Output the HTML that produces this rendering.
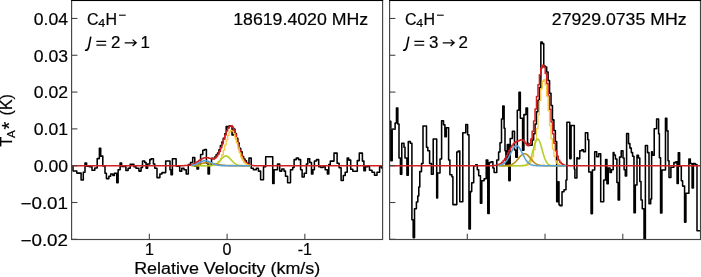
<!DOCTYPE html>
<html><head><meta charset="utf-8"><title>C4H- spectra</title>
<style>html,body{margin:0;padding:0;background:#fff;overflow:hidden}svg{display:block}text{stroke:#000;stroke-width:0.2px}</style>
</head><body>
<svg width="701" height="277" viewBox="0 0 701 277" font-family='"Liberation Sans", sans-serif'>
<rect width="100%" height="100%" fill="#fff"/>
<g style="will-change:transform">
<clipPath id="cl"><rect x="71.60" y="0.00" width="311.00" height="239.50"/></clipPath>
<g clip-path="url(#cl)">
<path d="M71.50,166.10H73.00V170.90H76.80V173.10H81.10V179.90H83.30V172.30H85.00V162.90H86.60V166.30H89.10V166.60H92.00V170.20H94.80V168.00H97.20V158.60H99.38V148.20H100.72V156.10H102.80V166.00H105.00V173.30H106.40V178.60H108.90V176.20H110.70V174.00H112.90V175.50H114.40V173.30H116.78V182.70H118.12V169.70H120.10V162.90H121.60V166.50H125.90V170.40H128.10V168.20H130.20V164.30H133.90V166.80H136.00V168.20H138.90V171.10H141.10V167.50H142.50V161.00H144.70V162.50H146.10V168.20H147.60V163.90H149.80V159.60H151.20V158.80H153.40V163.90H154.80V168.20H157.00V177.60H159.90V174.00H162.00V172.60H165.70V161.00H170.00V169.70H171.00V174.70H172.40V158.80H176.10V166.10H179.70V171.10H181.80V168.20H184.00V169.70H186.20V174.00H188.30V164.60H190.50V162.50H192.70V157.40H194.80V166.10H197.00V169.00H198.50V163.90H200.60V154.50H202.80V150.20H204.50V149.40H206.40V163.20H208.07V174.00H209.43V165.30H211.50V159.21H211.70V158.29H213.15V158.72H214.60V156.97H216.05V154.77H217.50V153.08H218.95V149.76H220.40V145.50H221.85V141.90H223.30V138.19H224.75V133.67H226.20V126.50H227.65V127.79H229.10V125.76H230.55V126.11H232.00V135.00H233.45V128.97H234.90V133.44H236.35V138.32H237.80V142.92H239.25V148.21H240.70V151.85H242.15V156.61H243.60V159.01H245.05V160.88H246.50V163.30H247.95V164.20H249.00V158.10H251.20V168.20H253.40V169.70H256.30V168.20H258.40V171.10H260.60V179.80H263.50V166.80H265.70V156.70H272.72V183.40H274.07V169.70H277.50V163.90H279.70V171.10H281.80V169.00H284.00V171.10H285.50V176.20H287.60V182.70H290.50V169.70H292.70V167.50H294.10V159.60H296.30V158.10H298.50V159.60H300.60V169.70H302.10V176.90H304.20V173.30H306.40V163.90H307.80V158.80H309.70V162.50H311.50V174.00H312.90V169.70H314.40V161.00H316.50V159.60H318.70V166.80H320.90V167.50H323.00V166.80H325.20V169.70H327.40V174.00H328.80V164.60H330.30V161.10H334.00V153.10H337.10V163.20H339.10V167.70H341.10V180.50H343.30V175.50H345.20V172.30H347.20V158.10H348.70V160.10H350.70V169.20H352.80V171.30H357.30V160.60H359.30V153.10H362.40V161.10H363.90V170.80H365.40V166.70H367.90V166.20H369.50V170.30H372.00V172.30H374.50V175.30H377.00V172.30H379.60V166.70H381.60V168.00H383.00" fill="none" stroke="#000" stroke-width="1.55" stroke-linejoin="round"/>
<path d="M71.60,165.70H72.50V165.70H73.95V165.70H75.40V165.70H76.85V165.70H78.30V165.70H79.75V165.70H81.20V165.70H82.65V165.70H84.10V165.70H85.55V165.70H87.00V165.70H88.45V165.70H89.90V165.70H91.35V165.70H92.80V165.70H94.25V165.70H95.70V165.70H97.15V165.70H98.60V165.70H100.05V165.70H101.50V165.70H102.95V165.70H104.40V165.70H105.85V165.70H107.30V165.70H108.75V165.70H110.20V165.70H111.65V165.70H113.10V165.70H114.55V165.70H116.00V165.70H117.45V165.70H118.90V165.70H120.35V165.70H121.80V165.70H123.25V165.70H124.70V165.70H126.15V165.70H127.60V165.70H129.05V165.70H130.50V165.70H131.95V165.70H133.40V165.70H134.85V165.70H136.30V165.70H137.75V165.70H139.20V165.70H140.65V165.70H142.10V165.70H143.55V165.70H145.00V165.70H146.45V165.70H147.90V165.70H149.35V165.70H150.80V165.70H152.25V165.70H153.70V165.70H155.15V165.70H156.60V165.70H158.05V165.70H159.50V165.70H160.95V165.70H162.40V165.70H163.85V165.70H165.30V165.70H166.75V165.70H168.20V165.70H169.65V165.70H171.10V165.70H172.55V165.70H174.00V165.70H175.45V165.70H176.90V165.70H178.35V165.70H179.80V165.69H181.25V165.68H182.70V165.66H184.15V165.62H185.60V165.56H187.05V165.45H188.50V165.27H189.95V164.99H191.40V164.59H192.85V164.05H194.30V163.34H195.75V162.49H197.20V161.52H198.65V160.50H200.10V159.51H201.55V158.65H203.00V158.02H204.45V157.68H205.90V157.63H207.35V157.85H208.80V158.22H210.25V158.61H211.70V158.81H213.15V158.66H214.60V157.95H216.05V156.57H217.50V154.41H218.95V151.47H220.40V147.83H221.85V143.68H223.30V139.27H224.75V134.96H226.20V131.11H227.65V128.10H229.10V126.23H230.55V125.71H232.00V126.93H233.45V129.93H234.90V134.31H236.35V139.48H237.80V144.87H239.25V149.95H240.70V154.37H242.15V157.95H243.60V160.65H245.05V162.57H246.50V163.86H247.95V164.67H249.40V165.15H250.85V165.42H252.30V165.56H253.75V165.64H255.20V165.67H256.65V165.69H258.10V165.70H259.55V165.70H261.00V165.70H262.45V165.70H263.90V165.70H265.35V165.70H266.80V165.70H268.25V165.70H269.70V165.70H271.15V165.70H272.60V165.70H274.05V165.70H275.50V165.70H276.95V165.70H278.40V165.70H279.85V165.70H281.30V165.70H282.75V165.70H284.20V165.70H285.65V165.70H287.10V165.70H288.55V165.70H290.00V165.70H291.45V165.70H292.90V165.70H294.35V165.70H295.80V165.70H297.25V165.70H298.70V165.70H300.15V165.70H301.60V165.70H303.05V165.70H304.50V165.70H305.95V165.70H307.40V165.70H308.85V165.70H310.30V165.70H311.75V165.70H313.20V165.70H314.65V165.70H316.10V165.70H317.55V165.70H319.00V165.70H320.45V165.70H321.90V165.70H323.35V165.70H324.80V165.70H326.25V165.70H327.70V165.70H329.15V165.70H330.60V165.70H332.05V165.70H333.50V165.70H334.95V165.70H336.40V165.70H337.85V165.70H339.30V165.70H340.75V165.70H342.20V165.70H343.65V165.70H345.10V165.70H346.55V165.70H348.00V165.70H349.45V165.70H350.90V165.70H352.35V165.70H353.80V165.70H355.25V165.70H356.70V165.70H358.15V165.70H359.60V165.70H361.05V165.70H362.50V165.70H363.95V165.70H365.40V165.70H366.85V165.70H368.30V165.70H369.75V165.70H371.20V165.70H372.65V165.70H374.10V165.70H375.55V165.70H377.00V165.70H378.45V165.70H379.90V165.70H381.35V165.70H382.60" fill="none" stroke="#d21f1f" stroke-width="1.5" stroke-linejoin="round"/>
<path d="M191.60,165.70H192.85V165.70H194.30V165.70H195.75V165.70H197.20V165.70H198.65V165.70H200.10V165.70H201.55V165.70H203.00V165.70H204.45V165.70H205.90V165.70H207.35V165.69H208.80V165.67H210.25V165.62H211.70V165.52H213.15V165.31H214.60V164.91H216.05V164.20H217.50V163.00H218.95V161.12H220.40V158.40H221.85V154.74H223.30V150.22H224.75V145.11H226.20V139.91H227.65V135.30H229.10V131.96H230.55V130.45H232.00V131.04H233.45V133.61H234.90V137.73H236.35V142.75H237.80V147.97H239.25V152.81H240.70V156.88H242.15V160.01H243.60V162.25H245.05V163.73H246.50V164.64H247.95V165.16H249.40V165.44H250.60" fill="none" stroke="#f5c93f" stroke-width="1.3" stroke-linejoin="round"/>
<path d="M191.60,165.70 L192.10,165.70 L192.60,165.70 L193.10,165.70 L193.60,165.70 L194.10,165.70 L194.60,165.70 L195.10,165.70 L195.60,165.70 L196.10,165.70 L196.60,165.70 L197.10,165.70 L197.60,165.70 L198.10,165.70 L198.60,165.70 L199.10,165.70 L199.60,165.70 L200.10,165.70 L200.60,165.70 L201.10,165.70 L201.60,165.70 L202.10,165.70 L202.60,165.70 L203.10,165.70 L203.60,165.70 L204.10,165.70 L204.60,165.70 L205.10,165.70 L205.60,165.70 L206.10,165.69 L206.60,165.69 L207.10,165.69 L207.60,165.68 L208.10,165.67 L208.60,165.66 L209.10,165.65 L209.60,165.63 L210.10,165.60 L210.60,165.57 L211.10,165.53 L211.60,165.48 L212.10,165.41 L212.60,165.33 L213.10,165.23 L213.60,165.11 L214.10,164.96 L214.60,164.79 L215.10,164.58 L215.60,164.34 L216.10,164.06 L216.60,163.74 L217.10,163.38 L217.60,162.99 L218.10,162.55 L218.60,162.08 L219.10,161.57 L219.60,161.04 L220.10,160.49 L220.60,159.93 L221.10,159.36 L221.60,158.81 L222.10,158.27 L222.60,157.77 L223.10,157.31 L223.60,156.90 L224.10,156.56 L224.60,156.30 L225.10,156.11 L225.60,156.02 L226.10,156.01 L226.60,156.09 L227.10,156.25 L227.60,156.50 L228.10,156.83 L228.60,157.22 L229.10,157.67 L229.60,158.17 L230.10,158.70 L230.60,159.25 L231.10,159.82 L231.60,160.38 L232.10,160.93 L232.60,161.47 L233.10,161.98 L233.60,162.46 L234.10,162.90 L234.60,163.31 L235.10,163.67 L235.60,164.00 L236.10,164.28 L236.60,164.53 L237.10,164.75 L237.60,164.93 L238.10,165.08 L238.60,165.21 L239.10,165.31 L239.60,165.40 L240.10,165.47 L240.60,165.52 L241.10,165.56 L241.60,165.60 L242.10,165.62 L242.60,165.64 L243.10,165.66 L243.60,165.67 L244.10,165.68 L244.60,165.68 L245.10,165.69 L245.60,165.69 L246.10,165.69 L246.60,165.70 L247.10,165.70 L247.60,165.70 L248.10,165.70 L248.60,165.70 L249.10,165.70 L249.60,165.70 L250.10,165.70 L250.60,165.70" fill="none" stroke="#b2cf25" stroke-width="1.6"/>
<path d="M191.60,165.61 L192.10,165.58 L192.60,165.55 L193.10,165.51 L193.60,165.47 L194.10,165.42 L194.60,165.36 L195.10,165.29 L195.60,165.21 L196.10,165.13 L196.60,165.03 L197.10,164.92 L197.60,164.80 L198.10,164.67 L198.60,164.53 L199.10,164.38 L199.60,164.23 L200.10,164.07 L200.60,163.91 L201.10,163.75 L201.60,163.59 L202.10,163.44 L202.60,163.30 L203.10,163.18 L203.60,163.06 L204.10,162.97 L204.60,162.89 L205.10,162.84 L205.60,162.81 L206.10,162.80 L206.60,162.81 L207.10,162.82 L207.60,162.85 L208.10,162.88 L208.60,162.92 L209.10,162.97 L209.60,163.02 L210.10,163.09 L210.60,163.16 L211.10,163.23 L211.60,163.31 L212.10,163.40 L212.60,163.48 L213.10,163.58 L213.60,163.67 L214.10,163.77 L214.60,163.86 L215.10,163.96 L215.60,164.06 L216.10,164.16 L216.60,164.25 L217.10,164.34 L217.60,164.44 L218.10,164.53 L218.60,164.61 L219.10,164.69 L219.60,164.77 L220.10,164.85 L220.60,164.92 L221.10,164.99 L221.60,165.05 L222.10,165.11 L222.60,165.17 L223.10,165.22 L223.60,165.27 L224.10,165.32 L224.60,165.36 L225.10,165.39 L225.60,165.43 L226.10,165.46 L226.60,165.49 L227.10,165.51 L227.60,165.54 L228.10,165.56 L228.60,165.58 L229.10,165.59 L229.60,165.61 L230.10,165.62 L230.60,165.63 L231.10,165.64 L231.60,165.65 L232.10,165.66 L232.60,165.66 L233.10,165.67 L233.60,165.67 L234.10,165.68 L234.60,165.68 L235.10,165.68 L235.60,165.69 L236.10,165.69 L236.60,165.69 L237.10,165.69 L237.60,165.69 L238.10,165.69 L238.60,165.70 L239.10,165.70 L239.60,165.70 L240.10,165.70 L240.60,165.70 L241.10,165.70 L241.60,165.70 L242.10,165.70 L242.60,165.70 L243.10,165.70 L243.60,165.70 L244.10,165.70 L244.60,165.70 L245.10,165.70 L245.60,165.70 L246.10,165.70 L246.60,165.70 L247.10,165.70 L247.60,165.70 L248.10,165.70 L248.60,165.70 L249.10,165.70 L249.60,165.70 L250.10,165.70 L250.60,165.70" fill="none" stroke="#b98c14" stroke-width="1.6"/>
<path d="M191.60,165.32 L192.10,165.24 L192.60,165.15 L193.10,165.05 L193.60,164.93 L194.10,164.80 L194.60,164.65 L195.10,164.49 L195.60,164.31 L196.10,164.12 L196.60,163.91 L197.10,163.69 L197.60,163.46 L198.10,163.22 L198.60,162.97 L199.10,162.72 L199.60,162.47 L200.10,162.22 L200.60,161.97 L201.10,161.74 L201.60,161.52 L202.10,161.32 L202.60,161.15 L203.10,161.00 L203.60,160.87 L204.10,160.78 L204.60,160.72 L205.10,160.70 L205.60,160.71 L206.10,160.76 L206.60,160.83 L207.10,160.94 L207.60,161.08 L208.10,161.25 L208.60,161.44 L209.10,161.65 L209.60,161.88 L210.10,162.12 L210.60,162.37 L211.10,162.62 L211.60,162.87 L212.10,163.12 L212.60,163.36 L213.10,163.60 L213.60,163.82 L214.10,164.04 L214.60,164.23 L215.10,164.42 L215.60,164.59 L216.10,164.74 L216.60,164.88 L217.10,165.00 L217.60,165.11 L218.10,165.20 L218.60,165.29 L219.10,165.36 L219.60,165.42 L220.10,165.47 L220.60,165.51 L221.10,165.55 L221.60,165.58 L222.10,165.61 L222.60,165.63 L223.10,165.64 L223.60,165.65 L224.10,165.66 L224.60,165.67 L225.10,165.68 L225.60,165.68 L226.10,165.69 L226.60,165.69 L227.10,165.69 L227.60,165.70 L228.10,165.70 L228.60,165.70 L229.10,165.70 L229.60,165.70 L230.10,165.70 L230.60,165.70 L231.10,165.70 L231.60,165.70 L232.10,165.70 L232.60,165.70 L233.10,165.70 L233.60,165.70 L234.10,165.70 L234.60,165.70 L235.10,165.70 L235.60,165.70 L236.10,165.70 L236.60,165.70 L237.10,165.70 L237.60,165.70 L238.10,165.70 L238.60,165.70 L239.10,165.70 L239.60,165.70 L240.10,165.70 L240.60,165.70 L241.10,165.70 L241.60,165.70 L242.10,165.70 L242.60,165.70 L243.10,165.70 L243.60,165.70 L244.10,165.70 L244.60,165.70 L245.10,165.70 L245.60,165.70 L246.10,165.70 L246.60,165.70 L247.10,165.70 L247.60,165.70 L248.10,165.70 L248.60,165.70 L249.10,165.70 L249.60,165.70 L250.10,165.70 L250.60,165.70" fill="none" stroke="#5b9fd9" stroke-width="1.6"/>
</g>
<rect x="71.60" y="0.50" width="311.00" height="239.00" fill="none" stroke="#444" stroke-width="1.15"/>
<line x1="71.10" y1="0.5" x2="383.10" y2="0.5" stroke="#000" stroke-width="1"/>
<line x1="71.60" y1="18.46" x2="77.40" y2="18.46" stroke="#444" stroke-width="1.1"/>
<line x1="71.60" y1="55.27" x2="77.40" y2="55.27" stroke="#444" stroke-width="1.1"/>
<line x1="71.60" y1="92.08" x2="77.40" y2="92.08" stroke="#444" stroke-width="1.1"/>
<line x1="71.60" y1="128.89" x2="77.40" y2="128.89" stroke="#444" stroke-width="1.1"/>
<line x1="71.60" y1="165.70" x2="77.40" y2="165.70" stroke="#444" stroke-width="1.1"/>
<line x1="71.60" y1="202.51" x2="77.40" y2="202.51" stroke="#444" stroke-width="1.1"/>
<line x1="71.60" y1="239.32" x2="77.40" y2="239.32" stroke="#444" stroke-width="1.1"/>
<line x1="149.35" y1="239.50" x2="149.35" y2="233.70" stroke="#444" stroke-width="1.1"/>
<line x1="227.10" y1="239.50" x2="227.10" y2="233.70" stroke="#444" stroke-width="1.1"/>
<line x1="304.85" y1="239.50" x2="304.85" y2="233.70" stroke="#444" stroke-width="1.1"/>
<clipPath id="cr"><rect x="389.60" y="0.00" width="310.90" height="239.50"/></clipPath>
<g clip-path="url(#cr)">
<path d="M389.50,121.20H390.82V160.80H392.18V129.30H395.10V123.00H396.47V108.00H397.82V124.00H399.00V158.00H400.43V174.30H401.78V143.30H404.00V147.20H405.00V158.00H406.93V175.20H408.28V141.50H410.30V143.30H411.90V219.70H413.18V237.60H414.53V208.80H416.40V201.90H417.80V195.90H418.80V187.00H419.80V171.60H421.50V163.50H423.00V126.00H426.50V147.20H427.80V150.80H429.60V163.50H431.40V174.30H433.20V139.00H436.70V197.90H437.60V173.00H440.00V158.90H441.60V120.80H443.50V124.80H444.90V136.70H446.30V127.80H448.60V159.90H449.90V174.80H451.90V176.70H452.90V204.60H456.80V151.90H458.20V150.90H459.80V201.70H462.80V132.70H465.80V124.40H467.60V134.70H468.97V229.00H470.32V191.60H471.70V182.70H473.70V165.80H475.70V164.80H477.30V169.80H478.70V175.70H480.43V203.30H481.78V180.70H484.10V178.70H486.22V159.90H487.81V213.40H489.16V162.60H491.00V161.70H492.90V168.00H494.10V172.50H496.80V159.90H498.60V152.00H500.00V142.80H501.50V119.00H502.77V106.00H504.12V128.30H505.00V150.80H505.90V165.30H507.30V144.50H508.82V180.60H510.18V138.40H512.40V131.20H514.50V150.00H515.80V157.20H517.30V110.30H518.98V92.20H520.33V118.20H522.58V150.30H523.92V114.60H526.00V108.10H527.50V142.80H528.00V145.33H529.25V145.31H530.70V145.33H532.15V139.99H533.60V133.82H535.05V124.01H536.50V111.68H537.95V100.17H539.40V87.40H540.85V42.00H542.30V43.60H543.75V66.00H545.20V67.08H546.65V71.99H548.10V80.42H549.55V93.35H551.00V105.56H552.45V119.88H553.90V130.53H555.35V141.54H556.70V201.70H558.00V181.80H559.00V204.70H560.00V205.70H562.00V191.80H564.00V189.80H566.00V179.90H566.90V122.30H569.73V158.60H571.07V125.50H574.30V168.90H574.90V177.90H576.90V157.70H577.80V158.60H579.80V150.70H581.80V149.70H583.40V151.70H585.40V132.80H587.80V139.80H588.80V171.90H591.08V213.60H592.42V170.00H594.70V151.70H596.70V156.70H598.70V153.70H600.70V201.70H603.70V179.90H605.60V159.60H606.93V183.80H608.27V168.00H610.00V172.50H611.40V169.80H613.20V152.60H614.00V155.00H615.40V159.00H616.90V182.40H618.17V199.90H619.52V157.10H621.20V150.80H623.00V158.00H624.10V169.80H625.30V176.00H626.60V133.50H628.50V143.60H629.90V148.10H631.30V152.60H632.60V156.20H633.98V212.80H635.32V185.00H637.00V155.30H638.50V158.00H639.80V181.50H641.00V200.00H642.30V208.80H644.03V238.60H645.38V145.40H647.50V152.60H649.00V203.80H650.70V198.90H651.60V151.70H652.40V155.30H654.20V128.80H656.60V118.90H658.60V133.80H659.40V157.70H660.58V213.00H661.92V170.00H665.48V118.30H666.82V130.80H668.00V160.80H669.00V177.50H670.90V167.20H673.90V162.60H675.90V161.70H677.10V183.40H678.28V152.70H679.62V166.20H681.30V180.70H682.60V186.10H684.58V222.10H685.92V193.30H688.90V159.00H690.30V163.50H692.10V187.90H693.40V163.50H695.20V164.40H697.00V230.80H701.50" fill="none" stroke="#000" stroke-width="1.55" stroke-linejoin="round"/>
<path d="M389.60,165.70H390.05V165.70H391.50V165.70H392.95V165.70H394.40V165.70H395.85V165.70H397.30V165.70H398.75V165.70H400.20V165.70H401.65V165.70H403.10V165.70H404.55V165.70H406.00V165.70H407.45V165.70H408.90V165.70H410.35V165.70H411.80V165.70H413.25V165.70H414.70V165.70H416.15V165.70H417.60V165.70H419.05V165.70H420.50V165.70H421.95V165.70H423.40V165.70H424.85V165.70H426.30V165.70H427.75V165.70H429.20V165.70H430.65V165.70H432.10V165.70H433.55V165.70H435.00V165.70H436.45V165.70H437.90V165.70H439.35V165.70H440.80V165.70H442.25V165.70H443.70V165.70H445.15V165.70H446.60V165.70H448.05V165.70H449.50V165.70H450.95V165.70H452.40V165.70H453.85V165.70H455.30V165.70H456.75V165.70H458.20V165.70H459.65V165.70H461.10V165.70H462.55V165.70H464.00V165.70H465.45V165.70H466.90V165.70H468.35V165.70H469.80V165.70H471.25V165.70H472.70V165.70H474.15V165.70H475.60V165.70H477.05V165.70H478.50V165.70H479.95V165.70H481.40V165.70H482.85V165.70H484.30V165.70H485.75V165.70H487.20V165.69H488.65V165.69H490.10V165.67H491.55V165.64H493.00V165.58H494.45V165.46H495.90V165.25H497.35V164.89H498.80V164.32H500.25V163.45H501.70V162.21H503.15V160.54H504.60V158.40H506.05V155.86H507.50V153.04H508.95V150.15H510.40V147.44H511.85V145.16H513.30V143.46H514.75V142.32H516.20V141.54H517.65V140.89H519.10V140.25H520.55V139.84H522.00V140.09H523.45V141.30H524.90V143.25H526.35V145.11H527.80V145.66H529.25V143.83H530.70V139.05H532.15V131.30H533.60V121.04H535.05V109.10H536.50V96.55H537.95V84.67H539.40V74.77H540.85V68.04H542.30V65.33H543.75V67.15H545.20V73.50H546.65V83.51H548.10V95.88H549.55V109.18H551.00V122.10H552.45V133.66H553.90V143.26H555.35V150.72H556.80V156.18H558.25V159.93H559.70V162.37H561.15V163.87H562.60V164.74H564.05V165.22H565.50V165.47H566.95V165.60H568.40V165.66H569.85V165.68H571.30V165.69H572.75V165.70H574.20V165.70H575.65V165.70H577.10V165.70H578.55V165.70H580.00V165.70H581.45V165.70H582.90V165.70H584.35V165.70H585.80V165.70H587.25V165.70H588.70V165.70H590.15V165.70H591.60V165.70H593.05V165.70H594.50V165.70H595.95V165.70H597.40V165.70H598.85V165.70H600.30V165.70H601.75V165.70H603.20V165.70H604.65V165.70H606.10V165.70H607.55V165.70H609.00V165.70H610.45V165.70H611.90V165.70H613.35V165.70H614.80V165.70H616.25V165.70H617.70V165.70H619.15V165.70H620.60V165.70H622.05V165.70H623.50V165.70H624.95V165.70H626.40V165.70H627.85V165.70H629.30V165.70H630.75V165.70H632.20V165.70H633.65V165.70H635.10V165.70H636.55V165.70H638.00V165.70H639.45V165.70H640.90V165.70H642.35V165.70H643.80V165.70H645.25V165.70H646.70V165.70H648.15V165.70H649.60V165.70H651.05V165.70H652.50V165.70H653.95V165.70H655.40V165.70H656.85V165.70H658.30V165.70H659.75V165.70H661.20V165.70H662.65V165.70H664.10V165.70H665.55V165.70H667.00V165.70H668.45V165.70H669.90V165.70H671.35V165.70H672.80V165.70H674.25V165.70H675.70V165.70H677.15V165.70H678.60V165.70H680.05V165.70H681.50V165.70H682.95V165.70H684.40V165.70H685.85V165.70H687.30V165.70H688.75V165.70H690.20V165.70H691.65V165.70H693.10V165.70H694.55V165.70H696.00V165.70H697.45V165.70H698.90V165.70H700.35V165.70H700.50" fill="none" stroke="#d21f1f" stroke-width="1.5" stroke-linejoin="round"/>
<path d="M498.60,165.70H498.80V165.70H500.25V165.70H501.70V165.70H503.15V165.70H504.60V165.70H506.05V165.70H507.50V165.70H508.95V165.70H510.40V165.70H511.85V165.70H513.30V165.70H514.75V165.70H516.20V165.70H517.65V165.70H519.10V165.70H520.55V165.69H522.00V165.67H523.45V165.63H524.90V165.50H526.35V165.20H527.80V164.55H529.25V163.23H530.70V160.76H532.15V156.55H533.60V149.97H535.05V140.60H536.50V128.54H537.95V114.65H539.40V100.63H540.85V88.75H542.30V81.26H543.75V79.74H545.20V85.05H546.65V96.14H548.10V110.54H549.55V125.49H551.00V138.75H552.45V149.10H553.90V156.30H555.35V160.80H556.80V163.36H558.25V164.67H559.70V165.28H561.15V165.54H562.60V165.65H564.05V165.68H565.50V165.70H565.60" fill="none" stroke="#f5c93f" stroke-width="1.3" stroke-linejoin="round"/>
<path d="M498.60,165.70 L499.10,165.70 L499.60,165.70 L500.10,165.70 L500.60,165.70 L501.10,165.70 L501.60,165.70 L502.10,165.70 L502.60,165.70 L503.10,165.70 L503.60,165.70 L504.10,165.70 L504.60,165.70 L505.10,165.70 L505.60,165.70 L506.10,165.70 L506.60,165.70 L507.10,165.70 L507.60,165.70 L508.10,165.70 L508.60,165.70 L509.10,165.70 L509.60,165.70 L510.10,165.70 L510.60,165.70 L511.10,165.70 L511.60,165.70 L512.10,165.70 L512.60,165.70 L513.10,165.70 L513.60,165.70 L514.10,165.70 L514.60,165.70 L515.10,165.70 L515.60,165.70 L516.10,165.70 L516.60,165.70 L517.10,165.70 L517.60,165.70 L518.10,165.70 L518.60,165.70 L519.10,165.70 L519.60,165.69 L520.10,165.69 L520.60,165.69 L521.10,165.68 L521.60,165.67 L522.10,165.65 L522.60,165.63 L523.10,165.59 L523.60,165.54 L524.10,165.48 L524.60,165.38 L525.10,165.26 L525.60,165.09 L526.10,164.88 L526.60,164.60 L527.10,164.24 L527.60,163.79 L528.10,163.24 L528.60,162.57 L529.10,161.76 L529.60,160.81 L530.10,159.72 L530.60,158.46 L531.10,157.06 L531.60,155.53 L532.10,153.87 L532.60,152.11 L533.10,150.30 L533.60,148.47 L534.10,146.67 L534.60,144.95 L535.10,143.36 L535.60,141.96 L536.10,140.80 L536.60,139.92 L537.10,139.35 L537.60,139.11 L538.10,139.21 L538.60,139.65 L539.10,140.41 L539.60,141.47 L540.10,142.78 L540.60,144.29 L541.10,145.97 L541.60,147.74 L542.10,149.57 L542.60,151.39 L543.10,153.17 L543.60,154.87 L544.10,156.46 L544.60,157.92 L545.10,159.23 L545.60,160.39 L546.10,161.40 L546.60,162.26 L547.10,162.98 L547.60,163.58 L548.10,164.07 L548.60,164.46 L549.10,164.77 L549.60,165.01 L550.10,165.20 L550.60,165.34 L551.10,165.44 L551.60,165.52 L552.10,165.57 L552.60,165.61 L553.10,165.64 L553.60,165.66 L554.10,165.67 L554.60,165.68 L555.10,165.69 L555.60,165.69 L556.10,165.70 L556.60,165.70 L557.10,165.70 L557.60,165.70 L558.10,165.70 L558.60,165.70 L559.10,165.70 L559.60,165.70 L560.10,165.70 L560.60,165.70 L561.10,165.70 L561.60,165.70 L562.10,165.70 L562.60,165.70 L563.10,165.70 L563.60,165.70 L564.10,165.70 L564.60,165.70 L565.10,165.70 L565.60,165.70" fill="none" stroke="#b2cf25" stroke-width="1.6"/>
<path d="M498.60,165.70 L499.10,165.70 L499.60,165.70 L500.10,165.70 L500.60,165.70 L501.10,165.69 L501.60,165.69 L502.10,165.69 L502.60,165.68 L503.10,165.68 L503.60,165.67 L504.10,165.66 L504.60,165.65 L505.10,165.64 L505.60,165.62 L506.10,165.59 L506.60,165.56 L507.10,165.52 L507.60,165.47 L508.10,165.41 L508.60,165.34 L509.10,165.25 L509.60,165.15 L510.10,165.03 L510.60,164.88 L511.10,164.71 L511.60,164.51 L512.10,164.28 L512.60,164.02 L513.10,163.73 L513.60,163.40 L514.10,163.03 L514.60,162.62 L515.10,162.18 L515.60,161.71 L516.10,161.20 L516.60,160.66 L517.10,160.09 L517.60,159.51 L518.10,158.91 L518.60,158.30 L519.10,157.70 L519.60,157.10 L520.10,156.53 L520.60,155.99 L521.10,155.48 L521.60,155.02 L522.10,154.62 L522.60,154.29 L523.10,154.02 L523.60,153.83 L524.10,153.73 L524.60,153.70 L525.10,153.76 L525.60,153.90 L526.10,154.12 L526.60,154.41 L527.10,154.78 L527.60,155.20 L528.10,155.68 L528.60,156.20 L529.10,156.76 L529.60,157.34 L530.10,157.94 L530.60,158.54 L531.10,159.15 L531.60,159.74 L532.10,160.32 L532.60,160.88 L533.10,161.40 L533.60,161.90 L534.10,162.36 L534.60,162.79 L535.10,163.18 L535.60,163.53 L536.10,163.85 L536.60,164.13 L537.10,164.38 L537.60,164.59 L538.10,164.78 L538.60,164.94 L539.10,165.08 L539.60,165.19 L540.10,165.29 L540.60,165.37 L541.10,165.44 L541.60,165.49 L542.10,165.54 L542.60,165.57 L543.10,165.60 L543.60,165.62 L544.10,165.64 L544.60,165.66 L545.10,165.67 L545.60,165.68 L546.10,165.68 L546.60,165.69 L547.10,165.69 L547.60,165.69 L548.10,165.69 L548.60,165.70 L549.10,165.70 L549.60,165.70 L550.10,165.70 L550.60,165.70 L551.10,165.70 L551.60,165.70 L552.10,165.70 L552.60,165.70 L553.10,165.70 L553.60,165.70 L554.10,165.70 L554.60,165.70 L555.10,165.70 L555.60,165.70 L556.10,165.70 L556.60,165.70 L557.10,165.70 L557.60,165.70 L558.10,165.70 L558.60,165.70 L559.10,165.70 L559.60,165.70 L560.10,165.70 L560.60,165.70 L561.10,165.70 L561.60,165.70 L562.10,165.70 L562.60,165.70 L563.10,165.70 L563.60,165.70 L564.10,165.70 L564.60,165.70 L565.10,165.70 L565.60,165.70" fill="none" stroke="#b98c14" stroke-width="1.6"/>
<path d="M498.60,165.47 L499.10,165.40 L499.60,165.32 L500.10,165.22 L500.60,165.10 L501.10,164.96 L501.60,164.78 L502.10,164.58 L502.60,164.33 L503.10,164.05 L503.60,163.72 L504.10,163.34 L504.60,162.90 L505.10,162.41 L505.60,161.86 L506.10,161.25 L506.60,160.57 L507.10,159.84 L507.60,159.04 L508.10,158.19 L508.60,157.29 L509.10,156.35 L509.60,155.38 L510.10,154.38 L510.60,153.37 L511.10,152.36 L511.60,151.37 L512.10,150.42 L512.60,149.51 L513.10,148.67 L513.60,147.90 L514.10,147.24 L514.60,146.68 L515.10,146.24 L515.60,145.92 L516.10,145.74 L516.60,145.70 L517.10,145.80 L517.60,146.03 L518.10,146.40 L518.60,146.89 L519.10,147.49 L519.60,148.20 L520.10,148.99 L520.60,149.86 L521.10,150.79 L521.60,151.76 L522.10,152.76 L522.60,153.77 L523.10,154.78 L523.60,155.77 L524.10,156.73 L524.60,157.66 L525.10,158.54 L525.60,159.37 L526.10,160.14 L526.60,160.85 L527.10,161.50 L527.60,162.09 L528.10,162.61 L528.60,163.08 L529.10,163.49 L529.60,163.86 L530.10,164.17 L530.60,164.44 L531.10,164.66 L531.60,164.86 L532.10,165.02 L532.60,165.15 L533.10,165.26 L533.60,165.36 L534.10,165.43 L534.60,165.49 L535.10,165.54 L535.60,165.57 L536.10,165.60 L536.60,165.63 L537.10,165.64 L537.60,165.66 L538.10,165.67 L538.60,165.68 L539.10,165.68 L539.60,165.69 L540.10,165.69 L540.60,165.69 L541.10,165.70 L541.60,165.70 L542.10,165.70 L542.60,165.70 L543.10,165.70 L543.60,165.70 L544.10,165.70 L544.60,165.70 L545.10,165.70 L545.60,165.70 L546.10,165.70 L546.60,165.70 L547.10,165.70 L547.60,165.70 L548.10,165.70 L548.60,165.70 L549.10,165.70 L549.60,165.70 L550.10,165.70 L550.60,165.70 L551.10,165.70 L551.60,165.70 L552.10,165.70 L552.60,165.70 L553.10,165.70 L553.60,165.70 L554.10,165.70 L554.60,165.70 L555.10,165.70 L555.60,165.70 L556.10,165.70 L556.60,165.70 L557.10,165.70 L557.60,165.70 L558.10,165.70 L558.60,165.70 L559.10,165.70 L559.60,165.70 L560.10,165.70 L560.60,165.70 L561.10,165.70 L561.60,165.70 L562.10,165.70 L562.60,165.70 L563.10,165.70 L563.60,165.70 L564.10,165.70 L564.60,165.70 L565.10,165.70 L565.60,165.70" fill="none" stroke="#5b9fd9" stroke-width="1.6"/>
</g>
<rect x="389.60" y="0.50" width="310.90" height="239.00" fill="none" stroke="#444" stroke-width="1.15"/>
<line x1="389.10" y1="0.5" x2="701.00" y2="0.5" stroke="#000" stroke-width="1"/>
<line x1="389.60" y1="18.46" x2="395.40" y2="18.46" stroke="#444" stroke-width="1.1"/>
<line x1="389.60" y1="55.27" x2="395.40" y2="55.27" stroke="#444" stroke-width="1.1"/>
<line x1="389.60" y1="92.08" x2="395.40" y2="92.08" stroke="#444" stroke-width="1.1"/>
<line x1="389.60" y1="128.89" x2="395.40" y2="128.89" stroke="#444" stroke-width="1.1"/>
<line x1="389.60" y1="165.70" x2="395.40" y2="165.70" stroke="#444" stroke-width="1.1"/>
<line x1="389.60" y1="202.51" x2="395.40" y2="202.51" stroke="#444" stroke-width="1.1"/>
<line x1="389.60" y1="239.32" x2="395.40" y2="239.32" stroke="#444" stroke-width="1.1"/>
<line x1="467.30" y1="239.50" x2="467.30" y2="233.70" stroke="#444" stroke-width="1.1"/>
<line x1="545.05" y1="239.50" x2="545.05" y2="233.70" stroke="#444" stroke-width="1.1"/>
<line x1="622.80" y1="239.50" x2="622.80" y2="233.70" stroke="#444" stroke-width="1.1"/>
<text x="68.00" y="24.86" font-size="16" text-anchor="end" textLength="34.2" lengthAdjust="spacingAndGlyphs">0.04</text>
<text x="68.00" y="61.67" font-size="16" text-anchor="end" textLength="34.2" lengthAdjust="spacingAndGlyphs">0.03</text>
<text x="68.00" y="98.48" font-size="16" text-anchor="end" textLength="34.2" lengthAdjust="spacingAndGlyphs">0.02</text>
<text x="68.00" y="135.29" font-size="16" text-anchor="end" textLength="34.2" lengthAdjust="spacingAndGlyphs">0.01</text>
<text x="68.00" y="172.10" font-size="16" text-anchor="end" textLength="34.2" lengthAdjust="spacingAndGlyphs">0.00</text>
<text x="68.00" y="208.91" font-size="16" text-anchor="end" textLength="47.5" lengthAdjust="spacingAndGlyphs">−0.01</text>
<text x="68.00" y="245.72" font-size="16" text-anchor="end" textLength="47.5" lengthAdjust="spacingAndGlyphs">−0.02</text>
<text x="149.50" y="254.80" font-size="16" text-anchor="middle" >1</text>
<text x="227.00" y="254.80" font-size="16" text-anchor="middle" >0</text>
<text x="304.80" y="254.80" font-size="16" text-anchor="middle" >-1</text>
<text x="134.20" y="273.90" font-size="16" text-anchor="start" textLength="186.0" lengthAdjust="spacingAndGlyphs">Relative Velocity (km/s)</text>
<g transform="translate(11.7,146.4) rotate(-90)"><text x="0" y="0" font-size="16">T</text><text x="8.4" y="3.0" font-size="11.5">A</text><text x="17.0" y="3.9" font-size="20">*</text><text x="31.0" y="0" font-size="16">(K)</text></g>
<text x="87.00" y="24.6" font-size="16">C</text>
<text x="98.20" y="26.7" font-size="10.8" textLength="6.9" lengthAdjust="spacingAndGlyphs">4</text>
<text x="105.60" y="24.6" font-size="16">H</text>
<line x1="119.00" y1="15.2" x2="125.70" y2="15.2" stroke="#000" stroke-width="1.1"/>
<path d="M90.80,36.6 L88.70,47.3 Q88.00,50.3 85.70,50.3 L84.90,50.3" fill="none" stroke="#000" stroke-width="1.6"/>
<path d="M96.40,41.4 H106.20 M96.40,45.1 H106.20" stroke="#000" stroke-width="1.25"/>
<text x="110.90" y="47.9" font-size="16" textLength="9.4" lengthAdjust="spacingAndGlyphs">2</text>
<path d="M124.70,42.8 H135.80 M132.60,39.6 L136.20,42.8 L132.60,46.0" fill="none" stroke="#000" stroke-width="1.25"/>
<text x="140.40" y="47.9" font-size="16" textLength="9.4" lengthAdjust="spacingAndGlyphs">1</text>
<text x="233.20" y="24.70" font-size="16" text-anchor="start" textLength="135.0" lengthAdjust="spacingAndGlyphs">18619.4020 MHz</text>
<text x="405.00" y="24.6" font-size="16">C</text>
<text x="416.20" y="26.7" font-size="10.8" textLength="6.9" lengthAdjust="spacingAndGlyphs">4</text>
<text x="423.60" y="24.6" font-size="16">H</text>
<line x1="437.00" y1="15.2" x2="443.70" y2="15.2" stroke="#000" stroke-width="1.1"/>
<path d="M408.80,36.6 L406.70,47.3 Q406.00,50.3 403.70,50.3 L402.90,50.3" fill="none" stroke="#000" stroke-width="1.6"/>
<path d="M414.40,41.4 H424.20 M414.40,45.1 H424.20" stroke="#000" stroke-width="1.25"/>
<text x="428.90" y="47.9" font-size="16" textLength="9.4" lengthAdjust="spacingAndGlyphs">3</text>
<path d="M442.70,42.8 H453.80 M450.60,39.6 L454.20,42.8 L450.60,46.0" fill="none" stroke="#000" stroke-width="1.25"/>
<text x="458.40" y="47.9" font-size="16" textLength="9.4" lengthAdjust="spacingAndGlyphs">2</text>
<text x="551.80" y="24.70" font-size="16" text-anchor="start" textLength="134.8" lengthAdjust="spacingAndGlyphs">27929.0735 MHz</text>
</g>
</svg>
</body></html>
